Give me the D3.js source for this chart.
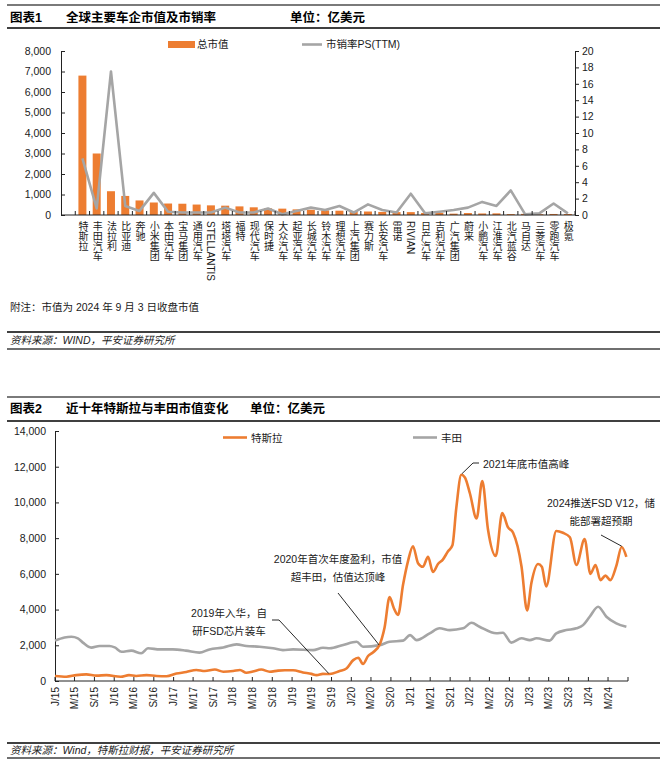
<!DOCTYPE html>
<html><head><meta charset="utf-8">
<script src="https://cdn.jsdelivr.net/npm/d3@7"></script>
<style>
body{margin:0;background:#fff;}
svg{display:block;font-family:"Liberation Sans","Noto Sans CJK SC",Arial,sans-serif;}
</style></head><body>
<svg id="chart" width="660" height="763"></svg>
<script>
// ---------- Data: chart 1 ----------
const companies = ["特斯拉","丰田汽车","法拉利","比亚迪","奔驰","小米集团","本田汽车","宝马集团","通用汽车","STELLANTIS","塔塔汽车","福特","现代汽车","保时捷","大众汽车","起亚汽车","长城汽车","铃木汽车","理想汽车","上汽集团","赛力斯","长安汽车","雷诺","RIVIAN","日产汽车","吉利汽车","广汽集团","蔚来","小鹏汽车","江淮汽车","北汽蓝谷","马自达","三菱汽车","零跑汽车","极氪"];
const marketCap = [6800,3000,1160,930,710,610,560,550,510,470,455,420,375,325,310,275,255,225,210,190,170,150,140,140,100,110,65,95,75,80,45,55,40,50,50];
const psRatio = [6.9,0.8,17.5,1.1,0.5,2.7,0.4,0.3,0.3,0.3,0.9,0.3,0.3,0.8,0.1,0.5,0.9,0.6,1.1,0.3,1.3,0.6,0.3,2.6,0.2,0.4,0.6,0.9,1.6,1.1,3.0,0.1,0.2,1.4,0.2];
const capTicks = [0,1000,2000,3000,4000,5000,6000,7000,8000];
const psTicks = [0,2,4,6,8,10,12,14,16,18,20];

// ---------- Data: chart 2 ----------
const teslaDates = ["2015-01-01","2015-03-12","2015-05-12","2015-07-13","2015-09-14","2015-11-14","2016-02-10","2016-04-01","2016-05-15","2016-07-18","2016-09-18","2016-11-18","2017-01-18","2017-03-20","2017-05-21","2017-07-12","2017-09-12","2017-11-03","2018-01-03","2018-02-14","2018-03-25","2018-05-04","2018-06-25","2018-08-16","2018-10-07","2018-11-18","2019-01-07","2019-03-09","2019-04-30","2019-06-01","2019-07-10","2019-08-21","2019-10-21","2019-12-02","2020-01-13","2020-02-13","2020-03-13","2020-04-13","2020-05-13","2020-06-24","2020-07-24","2020-08-24","2020-09-18","2020-10-15","2020-11-15","2020-12-15","2021-01-15","2021-02-15","2021-03-17","2021-04-18","2021-05-18","2021-06-18","2021-07-18","2021-08-18","2021-09-15","2021-10-09","2021-11-09","2021-12-01","2022-01-01","2022-02-11","2022-03-18","2022-04-22","2022-06-09","2022-07-19","2022-08-24","2022-09-24","2022-11-15","2022-12-19","2023-01-15","2023-02-25","2023-03-20","2023-04-16","2023-06-17","2023-07-28","2023-09-09","2023-10-19","2023-12-09","2024-01-13","2024-02-14","2024-03-15","2024-04-15","2024-05-15","2024-06-21","2024-07-24","2024-08-22"];
const teslaValues = [280,240,330,370,300,330,240,330,280,330,280,270,420,500,620,560,640,520,560,620,460,530,640,520,580,600,600,480,400,330,400,390,560,700,1170,1300,950,1400,1600,2050,3000,4700,4100,3700,5400,6700,7550,6600,6400,6950,6100,6550,6800,7250,7600,9700,11550,11400,10500,9100,11200,8500,7000,9400,8600,8300,6400,3950,5500,6550,6400,5300,8400,8300,8050,6500,7950,6000,6500,5650,5900,5650,6450,7500,6950];
const toyotaDates = ["2015-01-01","2015-03-01","2015-04-12","2015-05-22","2015-06-22","2015-08-12","2015-10-03","2015-12-03","2016-01-04","2016-02-15","2016-04-15","2016-06-15","2016-07-27","2016-10-08","2016-12-27","2017-03-18","2017-06-09","2017-08-10","2017-11-03","2018-01-24","2018-03-25","2018-06-15","2018-09-06","2018-11-06","2019-01-07","2019-05-10","2019-07-10","2019-08-21","2019-11-12","2020-02-03","2020-03-13","2020-06-24","2020-08-24","2020-11-15","2020-12-28","2021-02-06","2021-04-28","2021-06-28","2021-08-30","2021-11-20","2022-01-11","2022-03-01","2022-06-13","2022-07-23","2022-09-13","2022-11-15","2023-01-05","2023-02-15","2023-05-07","2023-06-17","2023-08-18","2023-10-19","2023-11-29","2024-01-09","2024-03-01","2024-04-21","2024-06-21","2024-08-22"];
const toyotaValues = [2260,2440,2480,2390,2150,1870,1960,1960,1880,1640,1700,1550,1830,1770,1770,1700,1590,1770,1880,2050,1960,1920,1830,1730,1770,1730,1860,1830,2020,2200,1920,2010,2200,2260,2570,2290,2670,2950,2850,2950,3260,3040,2670,2700,2150,2390,2290,2390,2260,2670,2850,2950,3130,3600,4160,3600,3230,3040];
const valueTicks = [0,2000,4000,6000,8000,10000,12000,14000];
const monthLetters = ["J","F","M","A","M","J","J","A","S","O","N","D"];

// ---------- Setup ----------
const W = 660;
const ORANGE = "#ED7D31", GRAY = "#A5A5A5", INK = "#1a1a1a";
const svg = d3.select("#chart");
const parse = d3.timeParse("%Y-%m-%d");

function header(topY, baseY, lineY, num, title, unitX) {
  svg.append("line").attr("x1", 7).attr("x2", W).attr("y1", topY).attr("y2", topY)
    .attr("stroke", "#7a7a7a").attr("stroke-width", 2);
  const g = svg.append("g").attr("font-weight", "bold").attr("font-size", 12.5).attr("fill", "#000");
  g.append("text").attr("x", 10).attr("y", baseY).text(num);
  g.append("text").attr("x", 66).attr("y", baseY).text(title);
  g.append("text").attr("x", unitX).attr("y", baseY).text("单位：亿美元");
  svg.append("line").attr("x1", 7).attr("x2", W).attr("y1", lineY).attr("y2", lineY)
    .attr("stroke", "#000").attr("stroke-width", 1.3);
}
function footer(y1, baseY, y2, txt) {
  svg.append("line").attr("x1", 7).attr("x2", W).attr("y1", y1).attr("y2", y1)
    .attr("stroke", "#000").attr("stroke-width", 1.6);
  svg.append("text").attr("x", 10).attr("y", baseY).attr("font-size", 10.5)
    .attr("font-style", "italic").attr("fill", "#222").text(txt);
  svg.append("line").attr("x1", 7).attr("x2", W).attr("y1", y2).attr("y2", y2)
    .attr("stroke", "#6f6f6f").attr("stroke-width", 2);
}

// ================= Chart 1 =================
header(5, 22, 28, "图表1", "全球主要车企市值及市销率", 290);

const c1Left = 61, c1Right = 575, c1Top = 51, c1Bottom = 215;
const slot = (c1Right - c1Left) / (companies.length + 1);
const xB = d3.scaleBand().domain(companies).range([c1Left + slot, c1Right])
  .paddingInner(0.44).paddingOuter(0.22);
const yL = d3.scaleLinear().domain([0, 8000]).range([c1Bottom, c1Top]);
const yR = d3.scaleLinear().domain([0, 20]).range([c1Bottom, c1Top]);

// bars
svg.append("g").selectAll("rect").data(companies).join("rect")
  .attr("x", d => xB(d)).attr("width", xB.bandwidth())
  .attr("y", (d, i) => yL(marketCap[i]))
  .attr("height", (d, i) => yL(0) - yL(marketCap[i]))
  .attr("fill", ORANGE);

// PS line
svg.append("path")
  .attr("d", d3.line().x((d, i) => xB(companies[i]) + xB.bandwidth() / 2).y(d => yR(d))(psRatio))
  .attr("fill", "none").attr("stroke", GRAY).attr("stroke-width", 2.6).attr("stroke-linejoin", "round");

// left axis
const axL = svg.append("g").attr("transform", `translate(${c1Left},0)`)
  .call(d3.axisLeft(yL).tickValues(capTicks).tickSize(-4).tickSizeOuter(0).tickPadding(10).tickFormat(d3.format(",")));
// right axis
const axR = svg.append("g").attr("transform", `translate(${c1Right},0)`)
  .call(d3.axisRight(yR).tickValues(psTicks).tickSize(4).tickSizeOuter(0).tickPadding(3));
[axL, axR].forEach(a => {
  a.selectAll("text").attr("font-size", 10.5).attr("fill", INK);
  a.selectAll("line,path").attr("stroke", "#222");
  a.attr("font-family", null);
});

// bottom axis line + ticks between categories
const gx1 = svg.append("g");
gx1.append("line").attr("x1", c1Left).attr("x2", c1Right).attr("y1", c1Bottom).attr("y2", c1Bottom).attr("stroke", "#222");
const bounds = companies.map(c => xB(c) - (xB.step() - xB.bandwidth()) / 2).concat([c1Right]);
gx1.selectAll("line.tk").data(bounds).join("line").attr("class", "tk")
  .attr("x1", d => d).attr("x2", d => d).attr("y1", c1Bottom).attr("y2", c1Bottom - 4).attr("stroke", "#222");
gx1.selectAll("text").data(companies).join("text")
  .attr("x", d => xB(d) + xB.bandwidth() / 2).attr("y", 221)
  .style("writing-mode", "vertical-rl")
  .attr("font-size", 10).attr("fill", INK).text(d => d);

// legend chart 1
svg.append("rect").attr("x", 168).attr("y", 41).attr("width", 27).attr("height", 7).attr("fill", ORANGE);
svg.append("text").attr("x", 197).attr("y", 48).attr("font-size", 10.5).attr("fill", INK).text("总市值");
svg.append("line").attr("x1", 302).attr("x2", 322).attr("y1", 44.5).attr("y2", 44.5).attr("stroke", GRAY).attr("stroke-width", 2.6);
svg.append("text").attr("x", 326).attr("y", 48).attr("font-size", 10.5).attr("fill", INK).text("市销率PS(TTM)");

svg.append("text").attr("x", 10).attr("y", 311).attr("font-size", 10.5).attr("fill", INK)
  .text("附注：市值为 2024 年 9 月 3 日收盘市值");
footer(332, 344, 349, "资料来源：WIND，平安证券研究所");

// ================= Chart 2 =================
header(397, 413, 421, "图表2", "近十年特斯拉与丰田市值变化", 250);

const c2Left = 55, c2Right = 628, c2Top = 431, c2Bottom = 681;
const start = new Date(2015, 0, 1), end = new Date(2024, 8, 1);
const xT = d3.scaleTime().domain([start, end]).range([c2Left, c2Right]);
const yV = d3.scaleLinear().domain([0, 14000]).range([c2Bottom, c2Top]);

const axV = svg.append("g").attr("transform", `translate(${c2Left},0)`)
  .call(d3.axisLeft(yV).tickValues(valueTicks).tickSize(-4).tickSizeOuter(0).tickPadding(9).tickFormat(d3.format(",")));
axV.attr("font-family", null);
axV.selectAll("text").attr("font-size", 10.5).attr("fill", INK);
axV.selectAll("line,path").attr("stroke", "#222");

const tickDates = d3.timeMonth.every(4).range(start, d3.timeDay.offset(end, 1));
const gx2 = svg.append("g");
gx2.append("line").attr("x1", c2Left).attr("x2", c2Right).attr("y1", c2Bottom).attr("y2", c2Bottom).attr("stroke", "#222");
gx2.selectAll("line.tk").data(tickDates).join("line").attr("class", "tk")
  .attr("x1", d => xT(d)).attr("x2", d => xT(d)).attr("y1", c2Bottom).attr("y2", c2Bottom - 4).attr("stroke", "#222");
gx2.selectAll("text").data(tickDates.slice(0, -1)).join("text")
  .attr("transform", d => `translate(${xT(d) + 3.5},${c2Bottom + 6}) rotate(-90)`)
  .attr("text-anchor", "end").attr("font-size", 10).attr("fill", INK)
  .text(d => monthLetters[d.getMonth()] + "/" + String(d.getFullYear()).slice(2));

const lineGen = d3.line().x(d => xT(d[0])).y(d => yV(d[1])).curve(d3.curveMonotoneX);
const toyota = toyotaDates.map((d, i) => [parse(d), toyotaValues[i]]);
const tesla = teslaDates.map((d, i) => [parse(d), teslaValues[i]]);
svg.append("path").attr("d", lineGen(toyota)).attr("fill", "none").attr("stroke", GRAY).attr("stroke-width", 2.6).attr("stroke-linejoin", "round");
svg.append("path").attr("d", lineGen(tesla)).attr("fill", "none").attr("stroke", ORANGE).attr("stroke-width", 2.6).attr("stroke-linejoin", "round");

// legend chart 2
svg.append("line").attr("x1", 223).attr("x2", 247).attr("y1", 437.5).attr("y2", 437.5).attr("stroke", ORANGE).attr("stroke-width", 2.6);
svg.append("text").attr("x", 251).attr("y", 441.5).attr("font-size", 10.5).attr("fill", INK).text("特斯拉");
svg.append("line").attr("x1", 413).attr("x2", 437).attr("y1", 437.5).attr("y2", 437.5).attr("stroke", GRAY).attr("stroke-width", 2.6);
svg.append("text").attr("x", 441).attr("y", 441.5).attr("font-size", 10.5).attr("fill", INK).text("丰田");

// annotations
const ann = svg.append("g").attr("font-size", 10.5).attr("fill", INK).attr("text-anchor", "middle");
function note(cx, y1, lines) {
  lines.forEach((t, i) => ann.append("text").attr("x", cx).attr("y", y1 + i * 18).text(t));
}
function leader(pts) {
  svg.append("path").attr("d", d3.line()(pts)).attr("fill", "none").attr("stroke", "#111").attr("stroke-width", 0.9);
}
note(229, 617, ["2019年入华，自", "研FSD芯片装车"]);
leader([[272, 620], [279, 620], [xT(parse("2019-08-15")), yV(420)]]);
note(338, 563, ["2020年首次年度盈利，市值", "超丰田，估值达顶峰"]);
leader([[338, 593], [xT(parse("2020-06-20")), yV(2020)]]);
ann.append("text").attr("x", 483).attr("y", 468).attr("text-anchor", "start").text("2021年底市值高峰");
leader([[479, 463], [473, 463], [xT(parse("2021-11-12")), yV(11600)]]);
note(601, 507, ["2024推送FSD V12，储", "能部署超预期"]);
leader([[601, 535], [xT(parse("2024-07-24")), yV(7550)]]);

footer(743, 754, 758, "资料来源：Wind，特斯拉财报，平安证券研究所");
</script>
</body></html>
